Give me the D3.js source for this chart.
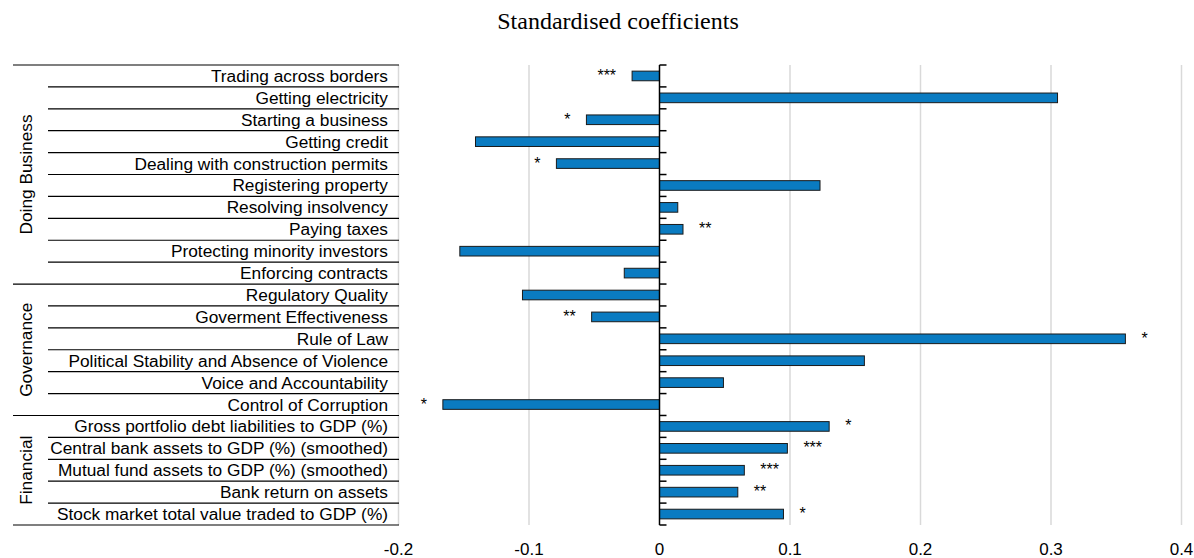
<!DOCTYPE html>
<html>
<head>
<meta charset="utf-8">
<script src="https://cdn.jsdelivr.net/npm/d3@7"></script>
<style>
  html, body { margin: 0; padding: 0; background: #fff; }
  svg { display: block; }
</style>
</head>
<body>
<svg id="chart" width="1194" height="558"></svg>
<script>
const categories = [
  "Trading across borders",
  "Getting electricity",
  "Starting a business",
  "Getting credit",
  "Dealing with construction permits",
  "Registering property",
  "Resolving insolvency",
  "Paying taxes",
  "Protecting minority investors",
  "Enforcing contracts",
  "Regulatory Quality",
  "Goverment Effectiveness",
  "Rule of Law",
  "Political Stability and Absence of Violence",
  "Voice and Accountability",
  "Control of Corruption",
  "Gross portfolio debt liabilities to GDP (%)",
  "Central bank assets to GDP (%) (smoothed)",
  "Mutual fund assets to GDP (%) (smoothed)",
  "Bank return on assets",
  "Stock market total value traded to GDP (%)"
];
const values = [
  -0.021, 0.305, -0.056, -0.141, -0.079, 0.123, 0.014, 0.018, -0.153, -0.027,
  -0.105, -0.052, 0.357, 0.157, 0.049, -0.166,
  0.130, 0.098, 0.065, 0.060, 0.095
];
const significance = [
  "***", "", "*", "", "*", "", "", "**", "", "",
  "", "**", "*", "", "", "*",
  "*", "***", "***", "**", "*"
];
const groups = ["Doing Business", "Governance", "Financial"];
const groupSizes = [10, 6, 5];
const xTicks = [-0.2, -0.1, 0, 0.1, 0.2, 0.3, 0.4];
const xTickLabels = ["-0.2", "-0.1", "0", "0.1", "0.2", "0.3", "0.4"];
const title = "Standardised coefficients";

const svg = d3.select("#chart");
const W = 1194, H = 558;
const plotTop = 65, plotBottom = 525;
const x = d3.scaleLinear().domain([-0.2, 0.4]).range([398.5, 1181.5]);
const y = d3.scaleBand().domain(categories).range([plotTop, plotBottom]).padding(0);
const font = "'Liberation Sans', Arial, sans-serif";
const fs = 17.3;

// title
svg.append("text")
  .attr("x", 618).attr("y", 29)
  .attr("text-anchor", "middle")
  .attr("font-family", "'Liberation Serif', 'Times New Roman', serif")
  .attr("font-size", 24)
  .attr("fill", "#000")
  .text(title);

// gridlines
svg.append("g").selectAll("line")
  .data(xTicks.filter(t => t !== 0))
  .join("line")
  .attr("x1", d => x(d)).attr("x2", d => x(d))
  .attr("y1", plotTop).attr("y2", plotBottom)
  .attr("stroke", "#d9d9d9").attr("stroke-width", 1.5);

// x tick labels
svg.append("g").selectAll("text")
  .data(xTicks)
  .join("text")
  .attr("x", d => x(d)).attr("y", 555)
  .attr("text-anchor", "middle")
  .attr("font-family", font).attr("font-size", 17)
  .attr("fill", "#000")
  .text((d, i) => xTickLabels[i]);

// bars
const barH = y.bandwidth() * 0.44;
svg.append("g").selectAll("rect")
  .data(categories)
  .join("rect")
  .attr("x", (d, i) => Math.min(x(0), x(values[i])))
  .attr("width", (d, i) => Math.abs(x(values[i]) - x(0)))
  .attr("y", d => y(d) + (y.bandwidth() - barH) / 2)
  .attr("height", barH)
  .attr("fill", "#0a7bc1")
  .attr("stroke", "#1a1a1a").attr("stroke-width", 1);

// significance stars
svg.append("g").selectAll("text")
  .data(categories)
  .join("text")
  .attr("x", (d, i) => values[i] < 0 ? x(values[i]) - 16 : x(values[i]) + 16)
  .attr("y", d => y(d) + y.bandwidth() / 2 + 5)
  .attr("text-anchor", (d, i) => values[i] < 0 ? "end" : "start")
  .attr("font-family", font).attr("font-size", 16)
  .attr("fill", "#000")
  .text((d, i) => significance[i]);

// zero axis with ticks at band boundaries
const bounds = categories.map(c => y(c)).concat([plotBottom]);
svg.append("line")
  .attr("x1", x(0)).attr("x2", x(0))
  .attr("y1", plotTop).attr("y2", plotBottom)
  .attr("stroke", "#000").attr("stroke-width", 1.5);
svg.append("g").selectAll("line")
  .data(bounds)
  .join("line")
  .attr("x1", x(0)).attr("x2", x(0) + 7)
  .attr("y1", d => d).attr("y2", d => d)
  .attr("stroke", "#000").attr("stroke-width", 1.5);

// category labels
svg.append("g").selectAll("text")
  .data(categories)
  .join("text")
  .attr("x", 388)
  .attr("y", d => y(d) + y.bandwidth() / 2 + 6)
  .attr("text-anchor", "end")
  .attr("font-family", font).attr("font-size", fs)
  .attr("fill", "#000")
  .text(d => d);

// separators
const groupStarts = [];
let acc = 0;
groupSizes.forEach(s => { groupStarts.push(acc); acc += s; });
const groupBoundaryIdx = new Set(groupStarts.concat([categories.length]));
svg.append("g").selectAll("line")
  .data(d3.range(categories.length + 1))
  .join("line")
  .attr("x1", i => groupBoundaryIdx.has(i) ? 13 : 48)
  .attr("x2", 399)
  .attr("y1", i => i < categories.length ? y(categories[i]) : plotBottom)
  .attr("y2", i => i < categories.length ? y(categories[i]) : plotBottom)
  .attr("stroke", "#000").attr("stroke-width", 1.2);

// group labels
svg.append("g").selectAll("text")
  .data(groups)
  .join("text")
  .attr("transform", (g, gi) => {
    const a = y(categories[groupStarts[gi]]);
    const b = a + groupSizes[gi] * y.step();
    return `translate(32,${(a + b) / 2}) rotate(-90)`;
  })
  .attr("text-anchor", "middle")
  .attr("font-family", font).attr("font-size", fs)
  .attr("fill", "#000")
  .text(d => d);
</script>
</body>
</html>
